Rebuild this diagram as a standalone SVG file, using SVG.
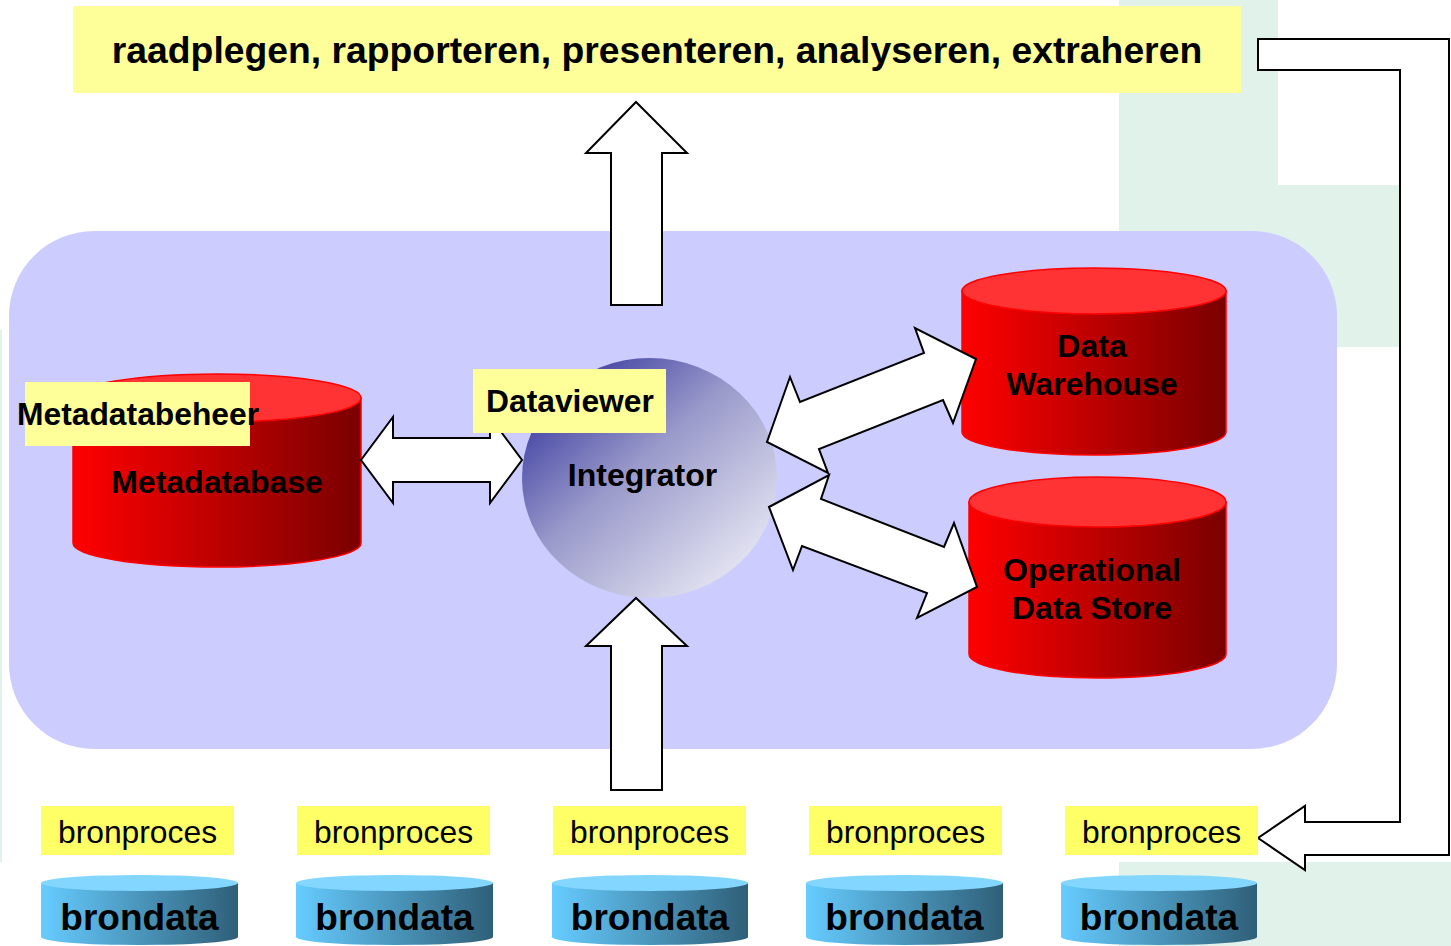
<svg xmlns="http://www.w3.org/2000/svg" width="1451" height="946" viewBox="0 0 1451 946">
  <defs>
    <linearGradient id="redBody" x1="0" y1="0" x2="1" y2="0">
      <stop offset="0" stop-color="#ff0000"/>
      <stop offset="1" stop-color="#7a0000"/>
    </linearGradient>
    <linearGradient id="blueBody" x1="0" y1="0" x2="1" y2="0">
      <stop offset="0" stop-color="#66ccff"/>
      <stop offset="1" stop-color="#2f5f78"/>
    </linearGradient>
    <linearGradient id="sphere" x1="0.1" y1="0.1" x2="0.85" y2="0.9">
      <stop offset="0" stop-color="#3a3aa0"/>
      <stop offset="0.45" stop-color="#9a9acb"/>
      <stop offset="1" stop-color="#e4e4f2"/>
    </linearGradient>
    <style>
      .bold { font-family: "Liberation Sans", Arial, sans-serif; font-weight: bold; fill: #000; }
      .reg { font-family: "Liberation Sans", Arial, sans-serif; fill: #000; }
      .arrow { fill: #ffffff; stroke: #000; stroke-width: 2; stroke-linejoin: miter; }
      .redTop { fill: #ff3333; stroke: #ff0000; stroke-width: 1.5; }
      .redSide { fill: url(#redBody); stroke: #ff0000; stroke-width: 1.5; }
      .blueTop { fill: #82d6ff; }
      .blueSide { fill: url(#blueBody); }
      .lbl { fill: #ffff99; }
      .src { fill: #ffff66; }
    </style>
  </defs>

  <rect width="1451" height="946" fill="#ffffff"/>

  <!-- pale background panels -->
  <g id="backdrop" fill="#e0f2ea">
    <path d="M1119,0 L1278,0 L1278,185 L1400,185 L1400,347 L1119,347 Z"/>
    <rect x="1119" y="862" width="332" height="84"/>
    <rect x="0" y="330" width="2" height="532"/>
  </g>

  <!-- system area -->
  <rect id="system" x="9" y="231" width="1328" height="518" rx="85" ry="85" fill="#ccccff"/>

  <!-- output functions -->
  <g id="functions">
    <rect x="73" y="6" width="1168" height="87" fill="#ffff99"/>
    <text class="bold" x="657" y="63" font-size="37.3" text-anchor="middle">raadplegen, rapporteren, presenteren, analyseren, extraheren</text>
  </g>

  <!-- metadata store -->
  <g id="metadatabase">
    <path class="redSide" d="M73,398 L73,543 A144,24 0 0 0 361,543 L361,398 Z"/>
    <ellipse class="redTop" cx="217" cy="398" rx="144" ry="24"/>
    <text class="bold" x="217" y="493" font-size="32" text-anchor="middle">Metadatabase</text>
  </g>

  <!-- integrator -->
  <g id="integrator">
    <ellipse cx="649.5" cy="478" rx="127.5" ry="120" fill="url(#sphere)"/>
    <text class="bold" x="642.5" y="486" font-size="32" text-anchor="middle">Integrator</text>
  </g>

  <!-- data warehouse -->
  <g id="datawarehouse">
    <path class="redSide" d="M962,291 L962,432 A132,23 0 0 0 1226,432 L1226,291 Z"/>
    <ellipse class="redTop" cx="1094" cy="291" rx="132" ry="23"/>
    <text class="bold" x="1092" y="357" font-size="32" text-anchor="middle">Data</text>
    <text class="bold" x="1092" y="395" font-size="32" text-anchor="middle">Warehouse</text>
  </g>

  <!-- operational data store -->
  <g id="ods">
    <path class="redSide" d="M969,502 L969,654 A128.5,24 0 0 0 1226,654 L1226,502 Z"/>
    <ellipse class="redTop" cx="1097.5" cy="502" rx="128.5" ry="25"/>
    <text class="bold" x="1092" y="581" font-size="32" text-anchor="middle">Operational</text>
    <text class="bold" x="1092" y="619" font-size="32" text-anchor="middle">Data Store</text>
  </g>

  <!-- connectors -->
  <g id="connectors">
    <path class="arrow" d="M636,102 L687,153 L662,153 L662,305 L611,305 L611,153 L586,153 Z"/>
    <path class="arrow" d="M636,598 L687,646 L662,646 L662,790 L611,790 L611,646 L586,646 Z"/>
    <path class="arrow" d="M361,460 L393,417 L393,438 L490,438 L490,417 L522,460 L490,503 L490,482 L393,482 L393,503 Z"/>
    <path class="arrow" d="M976,359 L953,423 L943,400 L819,449 L828,473 L767,442 L790,377 L800,402 L924,353 L915,328 Z"/>
    <path class="arrow" d="M769,507 L829,475 L821,499 L944,547 L954,523 L977,587 L917,618 L927,593 L802,546 L793,570 Z"/>
    <path class="arrow" d="M1258,39 L1449,39 L1449,855 L1305,855 L1305,870 L1258,838 L1305,806 L1305,822 L1400,822 L1400,70 L1258,70 Z"/>
  </g>

  <!-- labels over the connectors -->
  <g id="metadatabeheer">
    <rect class="lbl" x="25" y="382" width="225" height="64"/>
    <text class="bold" x="17" y="425" font-size="31.8">Metadatabeheer</text>
  </g>
  <g id="dataviewer">
    <rect class="lbl" x="473" y="369" width="193" height="64"/>
    <text class="bold" x="486" y="412" font-size="31.8">Dataviewer</text>
  </g>

  <!-- source processes -->
  <g id="bronproces-1"><rect class="src" x="41" y="806" width="193" height="49"/><text class="reg" x="137.5" y="843" font-size="31.8" text-anchor="middle">bronproces</text></g>
  <g id="bronproces-2"><rect class="src" x="297" y="806" width="193" height="49"/><text class="reg" x="393.5" y="843" font-size="31.8" text-anchor="middle">bronproces</text></g>
  <g id="bronproces-3"><rect class="src" x="553" y="806" width="193" height="49"/><text class="reg" x="649.5" y="843" font-size="31.8" text-anchor="middle">bronproces</text></g>
  <g id="bronproces-4"><rect class="src" x="809" y="806" width="193" height="49"/><text class="reg" x="905.5" y="843" font-size="31.8" text-anchor="middle">bronproces</text></g>
  <g id="bronproces-5"><rect class="src" x="1065" y="806" width="193" height="49"/><text class="reg" x="1161.5" y="843" font-size="31.8" text-anchor="middle">bronproces</text></g>

  <!-- source data -->
  <g id="brondata-1">
    <path class="blueSide" d="M41,883 L41,937 A98.5,8 0 0 0 238,937 L238,883 Z"/>
    <ellipse class="blueTop" cx="139.5" cy="883" rx="98.5" ry="8"/>
    <text class="bold" x="139.5" y="930" font-size="37" text-anchor="middle">brondata</text>
  </g>
  <g id="brondata-2">
    <path class="blueSide" d="M296,883 L296,937 A98.5,8 0 0 0 493,937 L493,883 Z"/>
    <ellipse class="blueTop" cx="394.5" cy="883" rx="98.5" ry="8"/>
    <text class="bold" x="394.5" y="930" font-size="37" text-anchor="middle">brondata</text>
  </g>
  <g id="brondata-3">
    <path class="blueSide" d="M552,883 L552,937 A98,8 0 0 0 748,937 L748,883 Z"/>
    <ellipse class="blueTop" cx="650" cy="883" rx="98" ry="8"/>
    <text class="bold" x="650" y="930" font-size="37" text-anchor="middle">brondata</text>
  </g>
  <g id="brondata-4">
    <path class="blueSide" d="M806,883 L806,937 A98.5,8 0 0 0 1003,937 L1003,883 Z"/>
    <ellipse class="blueTop" cx="904.5" cy="883" rx="98.5" ry="8"/>
    <text class="bold" x="904.5" y="930" font-size="37" text-anchor="middle">brondata</text>
  </g>
  <g id="brondata-5">
    <path class="blueSide" d="M1061,883 L1061,937 A98,8 0 0 0 1257,937 L1257,883 Z"/>
    <ellipse class="blueTop" cx="1159" cy="883" rx="98" ry="8"/>
    <text class="bold" x="1159" y="930" font-size="37" text-anchor="middle">brondata</text>
  </g>
</svg>
